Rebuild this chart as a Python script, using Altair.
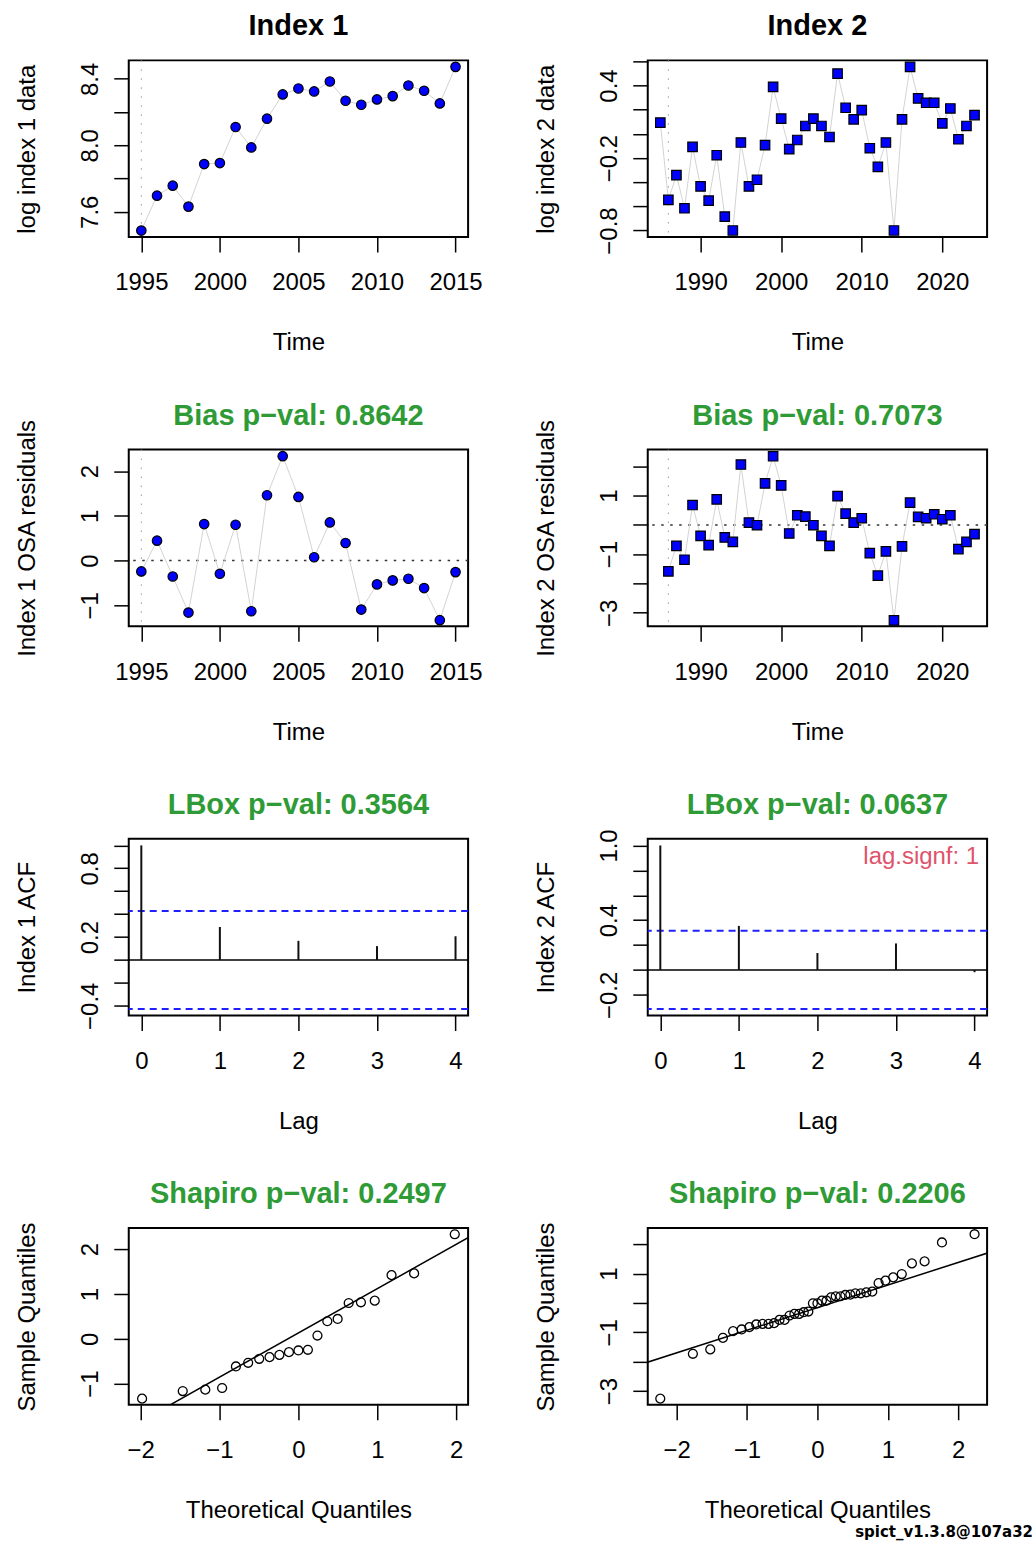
import altair as alt
import pandas as pd

FONT = "Liberation Sans"
W, H = 340, 177
GREEN = "#2E9B36"

# ---------------- data ----------------
years1 = list(range(1995, 2016))
index1_log = [7.487, 7.697, 7.757, 7.631, 7.887, 7.893, 8.110, 7.987, 8.160, 8.306, 8.342,
              8.324, 8.384, 8.268, 8.244, 8.276, 8.296, 8.360, 8.328, 8.252, 8.472]
years2 = list(range(1985, 2025))
index2_log = [0.093, -0.547, -0.342, -0.616, -0.108, -0.435, -0.553, -0.177, -0.685, -0.800,
              -0.072, -0.435, -0.380, -0.094, 0.389, 0.126, -0.127, -0.051, 0.065, 0.126,
              0.065, -0.026, 0.499, 0.216, 0.120, 0.196, -0.119, -0.273, -0.072, -0.800,
              0.120, 0.554, 0.293, 0.257, 0.257, 0.087, 0.210, -0.045, 0.065, 0.155]

res_years1 = list(range(1995, 2016))
resid1 = [-0.244, 0.444, -0.356, -1.163, 0.816, -0.296, 0.800, -1.133, 1.460, 2.333, 1.422,
          0.074, 0.852, 0.393, -1.096, -0.533, -0.444, -0.407, -0.615, -1.333, -0.259]
res_years2 = list(range(1986, 2025))
resid2 = [-1.583, -0.713, -1.188, 0.679, -0.373, -0.689, 0.873, -0.428, -0.577, 2.061,
          0.081, -0.010, 1.416, 2.343, 1.348, -0.292, 0.329, 0.285, -0.010, -0.373,
          -0.713, 0.985, 0.387, 0.081, 0.228, -0.961, -1.732, -0.903, -3.260, -0.733,
          0.761, 0.272, 0.228, 0.363, 0.194, 0.329, -0.825, -0.577, -0.316]

lags = [0, 1, 2, 3, 4]
acf1 = [1.0, 0.288, 0.167, 0.121, 0.207]
acf2 = [1.0, 0.354, 0.136, 0.213, -0.018]
conf1 = [0.428, -0.428]
conf2 = [0.314, -0.314]

theo1 = [-1.981, -1.466, -1.180, -0.967, -0.792, -0.637, -0.497, -0.366, -0.241, -0.120, 0.0,
         0.120, 0.241, 0.366, 0.497, 0.637, 0.792, 0.967, 1.180, 1.466, 1.981]
sample1 = [-1.333, -1.163, -1.133, -1.096, -0.615, -0.533, -0.444, -0.407, -0.356, -0.296,
           -0.259, -0.244, 0.074, 0.393, 0.444, 0.800, 0.816, 0.852, 1.422, 1.460, 2.333]
theo2 = [-2.232, -1.769, -1.522, -1.342, -1.198, -1.076, -0.967, -0.869, -0.779, -0.695,
         -0.615, -0.539, -0.467, -0.396, -0.327, -0.260, -0.194, -0.129, -0.064, 0.0,
         0.064, 0.129, 0.194, 0.260, 0.327, 0.396, 0.467, 0.539, 0.615, 0.695,
         0.779, 0.869, 0.967, 1.076, 1.198, 1.342, 1.522, 1.769, 2.232]
sample2 = [-3.260, -1.732, -1.583, -1.188, -0.961, -0.903, -0.825, -0.733, -0.713, -0.713,
           -0.689, -0.577, -0.577, -0.428, -0.373, -0.373, -0.316, -0.292, -0.010, -0.010,
           0.081, 0.081, 0.194, 0.228, 0.228, 0.272, 0.285, 0.329, 0.329, 0.363,
           0.387, 0.679, 0.761, 0.873, 0.985, 1.348, 1.416, 2.061, 2.343]
qqline1_x = [-2.3, 2.3]
qqline1_y = [-2.139, 2.405]
qqline2_x = [-2.6, 2.6]
qqline2_y = [-2.162, 1.842]

titles = ["Index 1", "Index 2",
          "Bias p\u2212val: 0.8642", "Bias p\u2212val: 0.7073",
          "LBox p\u2212val: 0.3564", "LBox p\u2212val: 0.0637",
          "Shapiro p\u2212val: 0.2497", "Shapiro p\u2212val: 0.2206"]
footer = "spict_v1.3.8@107a32"


# ---------------- helpers ----------------
def xaxis(values, title):
    return alt.Axis(values=values, title=title, format="d", grid=False, domain=False,
                    ticks=True, tickSize=15, tickWidth=1.5, tickColor="black",
                    labelPadding=38, labelBaseline="alphabetic", labelAlign="center",
                    labelFlush=False, labelOverlap=False, labelFont=FONT, labelFontSize=24,
                    labelColor="black", titleFont=FONT, titleFontSize=24,
                    titleFontWeight="normal", titleColor="black", titleY=113,
                    titleBaseline="alphabetic", titleAlign="center")


def yaxis(values, shown, title, fmt):
    cond = " || ".join(f"abs(datum.value - ({v})) < 1e-6" for v in shown)
    return alt.Axis(values=values, title=title, grid=False, domain=False,
                    ticks=True, tickSize=15, tickWidth=1.5, tickColor="black",
                    labelExpr=f"({cond}) ? format(datum.value, '{fmt}') : ''",
                    labelAngle=270, labelAlign="center", labelBaseline="alphabetic",
                    labelPadding=16, labelFlush=False, labelOverlap=False,
                    labelFont=FONT, labelFontSize=24, labelColor="black",
                    titleFont=FONT, titleFontSize=24, titleFontWeight="normal",
                    titleColor="black", titleAngle=270, titleX=-94,
                    titleBaseline="alphabetic", titleAlign="center")


def title_layer(text, color):
    return alt.Chart(pd.DataFrame({"t": [text]})).mark_text(
        font=FONT, fontSize=29, fontWeight="bold", color=color,
        align="center", baseline="alphabetic"
    ).encode(text="t:N", x=alt.value(W / 2), y=alt.value(-25))


def sc(lo, hi):
    return alt.Scale(domain=[lo, hi], nice=False, zero=False)


def enc(xs, xa, ys, ya):
    return dict(x=alt.X("x:Q", scale=xs, axis=xa), y=alt.Y("y:Q", scale=ys, axis=ya))


def ts_panel(xs_, ys_, shape, xsc, xa, ysc, ya, title, tcol, vline, hline=False):
    df = pd.DataFrame({"x": xs_, "y": ys_})
    e = enc(xsc, xa, ysc, ya)
    vl = alt.Chart(pd.DataFrame({"x": [vline]})).mark_rule(
        color="#9A9A9A", strokeWidth=1, strokeDash=[1.5, 7.5]).encode(x=e["x"])
    layers = [vl]
    if hline:
        hl = alt.Chart(pd.DataFrame({"y": [0]})).mark_rule(
            color="#333333", strokeWidth=1.5, strokeDash=[2.5, 6.5]).encode(y=e["y"])
        layers.append(hl)
    line = alt.Chart(df).mark_line(color="#D3D3D3", strokeWidth=1).encode(**e)
    pts = alt.Chart(df).mark_point(shape=shape, filled=True, fill="#0000FF", stroke="black",
                                   strokeWidth=1.2, size=90, opacity=1).encode(**e)
    layers += [line, pts, title_layer(title, tcol)]
    return alt.layer(*layers).properties(width=W, height=H)


def acf_panel(acf, conf, ysc, ya, title, note=None):
    xsc = sc(-0.16, 4.16)
    xa = xaxis(lags, "Lag")
    e = enc(xsc, xa, ysc, ya)
    df = pd.DataFrame({"x": lags, "y": acf, "y0": [0] * len(lags)})
    bars = alt.Chart(df).mark_rule(color="#111111", strokeWidth=2).encode(
        x=e["x"], y=e["y"], y2="y0:Q")
    zero = alt.Chart(pd.DataFrame({"y": [0]})).mark_rule(color="black", strokeWidth=1.5).encode(y=e["y"])
    cl = alt.Chart(pd.DataFrame({"y": conf})).mark_rule(
        color="#2020FF", strokeWidth=2, strokeDash=[7, 5]).encode(y=e["y"])
    layers = [zero, cl, bars]
    if note:
        t = alt.Chart(pd.DataFrame({"t": [note]})).mark_text(
            align="right", baseline="alphabetic", font=FONT, fontSize=24, color="#DF536B"
        ).encode(text="t:N", x=alt.value(W - 8), y=alt.value(25))
        layers.append(t)
    layers.append(title_layer(title, GREEN))
    return alt.layer(*layers).properties(width=W, height=H)


def qq_panel(theo, sample, lx, ly, xsc, ysc, ya, title):
    xa = xaxis([-2, -1, 0, 1, 2], "Theoretical Quantiles")
    e = enc(xsc, xa, ysc, ya)
    pts = alt.Chart(pd.DataFrame({"x": theo, "y": sample})).mark_point(
        shape="circle", filled=False, color="black", strokeWidth=1.3, size=80, opacity=1).encode(**e)
    ln = alt.Chart(pd.DataFrame({"x": lx, "y": ly})).mark_line(
        color="black", strokeWidth=1.5, clip=True).encode(**e)
    return alt.layer(ln, pts, title_layer(title, GREEN)).properties(width=W, height=H)


# ---------------- panels ----------------
xs1 = sc(1994.2, 2015.8)
xs2 = sc(1983.44, 2025.56)
xa1 = xaxis([1995, 2000, 2005, 2010, 2015], "Time")
xa2 = xaxis([1990, 2000, 2010, 2020], "Time")

p1 = ts_panel(years1, index1_log, "circle", xs1, xa1, sc(7.448, 8.511),
              yaxis([7.6, 7.8, 8.0, 8.2, 8.4], [7.6, 8.0, 8.4], "log index 1 data", ".1f"),
              titles[0], "black", 1995)
p2 = ts_panel(years2, index2_log, "square", xs2, xa2, sc(-0.854, 0.608),
              yaxis([-0.8, -0.6, -0.4, -0.2, 0.0, 0.2, 0.4, 0.6], [-0.8, -0.2, 0.4],
                    "log index 2 data", ".1f"),
              titles[1], "black", 1986)
p3 = ts_panel(res_years1, resid1, "circle", xs1, xa1, sc(-1.47, 2.48),
              yaxis([-1, 0, 1, 2], [-1, 0, 1, 2], "Index 1 OSA residuals", "d"),
              titles[2], GREEN, 1995, hline=True)
p4 = ts_panel(res_years2, resid2, "square", xs2, xa2, sc(-3.46, 2.57),
              yaxis([-3, -2, -1, 0, 1, 2], [-3, -1, 1], "Index 2 OSA residuals", "d"),
              titles[3], GREEN, 1986, hline=True)
p5 = acf_panel(acf1, conf1, sc(-0.485, 1.057),
               yaxis([-0.4, -0.2, 0.0, 0.2, 0.4, 0.6, 0.8, 1.0], [-0.4, 0.2, 0.8], "Index 1 ACF", ".1f"),
               titles[4])
p6 = acf_panel(acf2, conf2, sc(-0.366, 1.053),
               yaxis([-0.2, 0.0, 0.2, 0.4, 0.6, 0.8, 1.0], [-0.2, 0.4, 1.0], "Index 2 ACF", ".1f"),
               titles[5], note="lag.signf: 1")
p7 = qq_panel(theo1, sample1, qqline1_x, qqline1_y, sc(-2.15, 2.15), sc(-1.47, 2.47),
              yaxis([-1, 0, 1, 2], [-1, 0, 1, 2], "Sample Quantiles", "d"), titles[6])
p8 = qq_panel(theo2, sample2, qqline2_x, qqline2_y, sc(-2.41, 2.41), sc(-3.47, 2.55),
              yaxis([-3, -2, -1, 0, 1, 2], [-3, -1, 1], "Sample Quantiles", "d"), titles[7])

chart = alt.concat(
    p1, p2, p3, p4, p5, p6, p7, p8, columns=2, bounds="flush",
    spacing={"row": 213, "column": 180},
    title=alt.TitleParams(footer, orient="bottom", anchor="end",
                          font="DejaVu Sans", fontSize=15, fontWeight="bold", color="black",
                          offset=1, dx=44),
).properties(
    padding={"left": 15, "top": 10, "right": 3, "bottom": 3},
    background="white",
).configure_view(
    stroke="black", strokeWidth=2
)

chart.save("out.html", embed_options={"renderer": "svg", "actions": False})
